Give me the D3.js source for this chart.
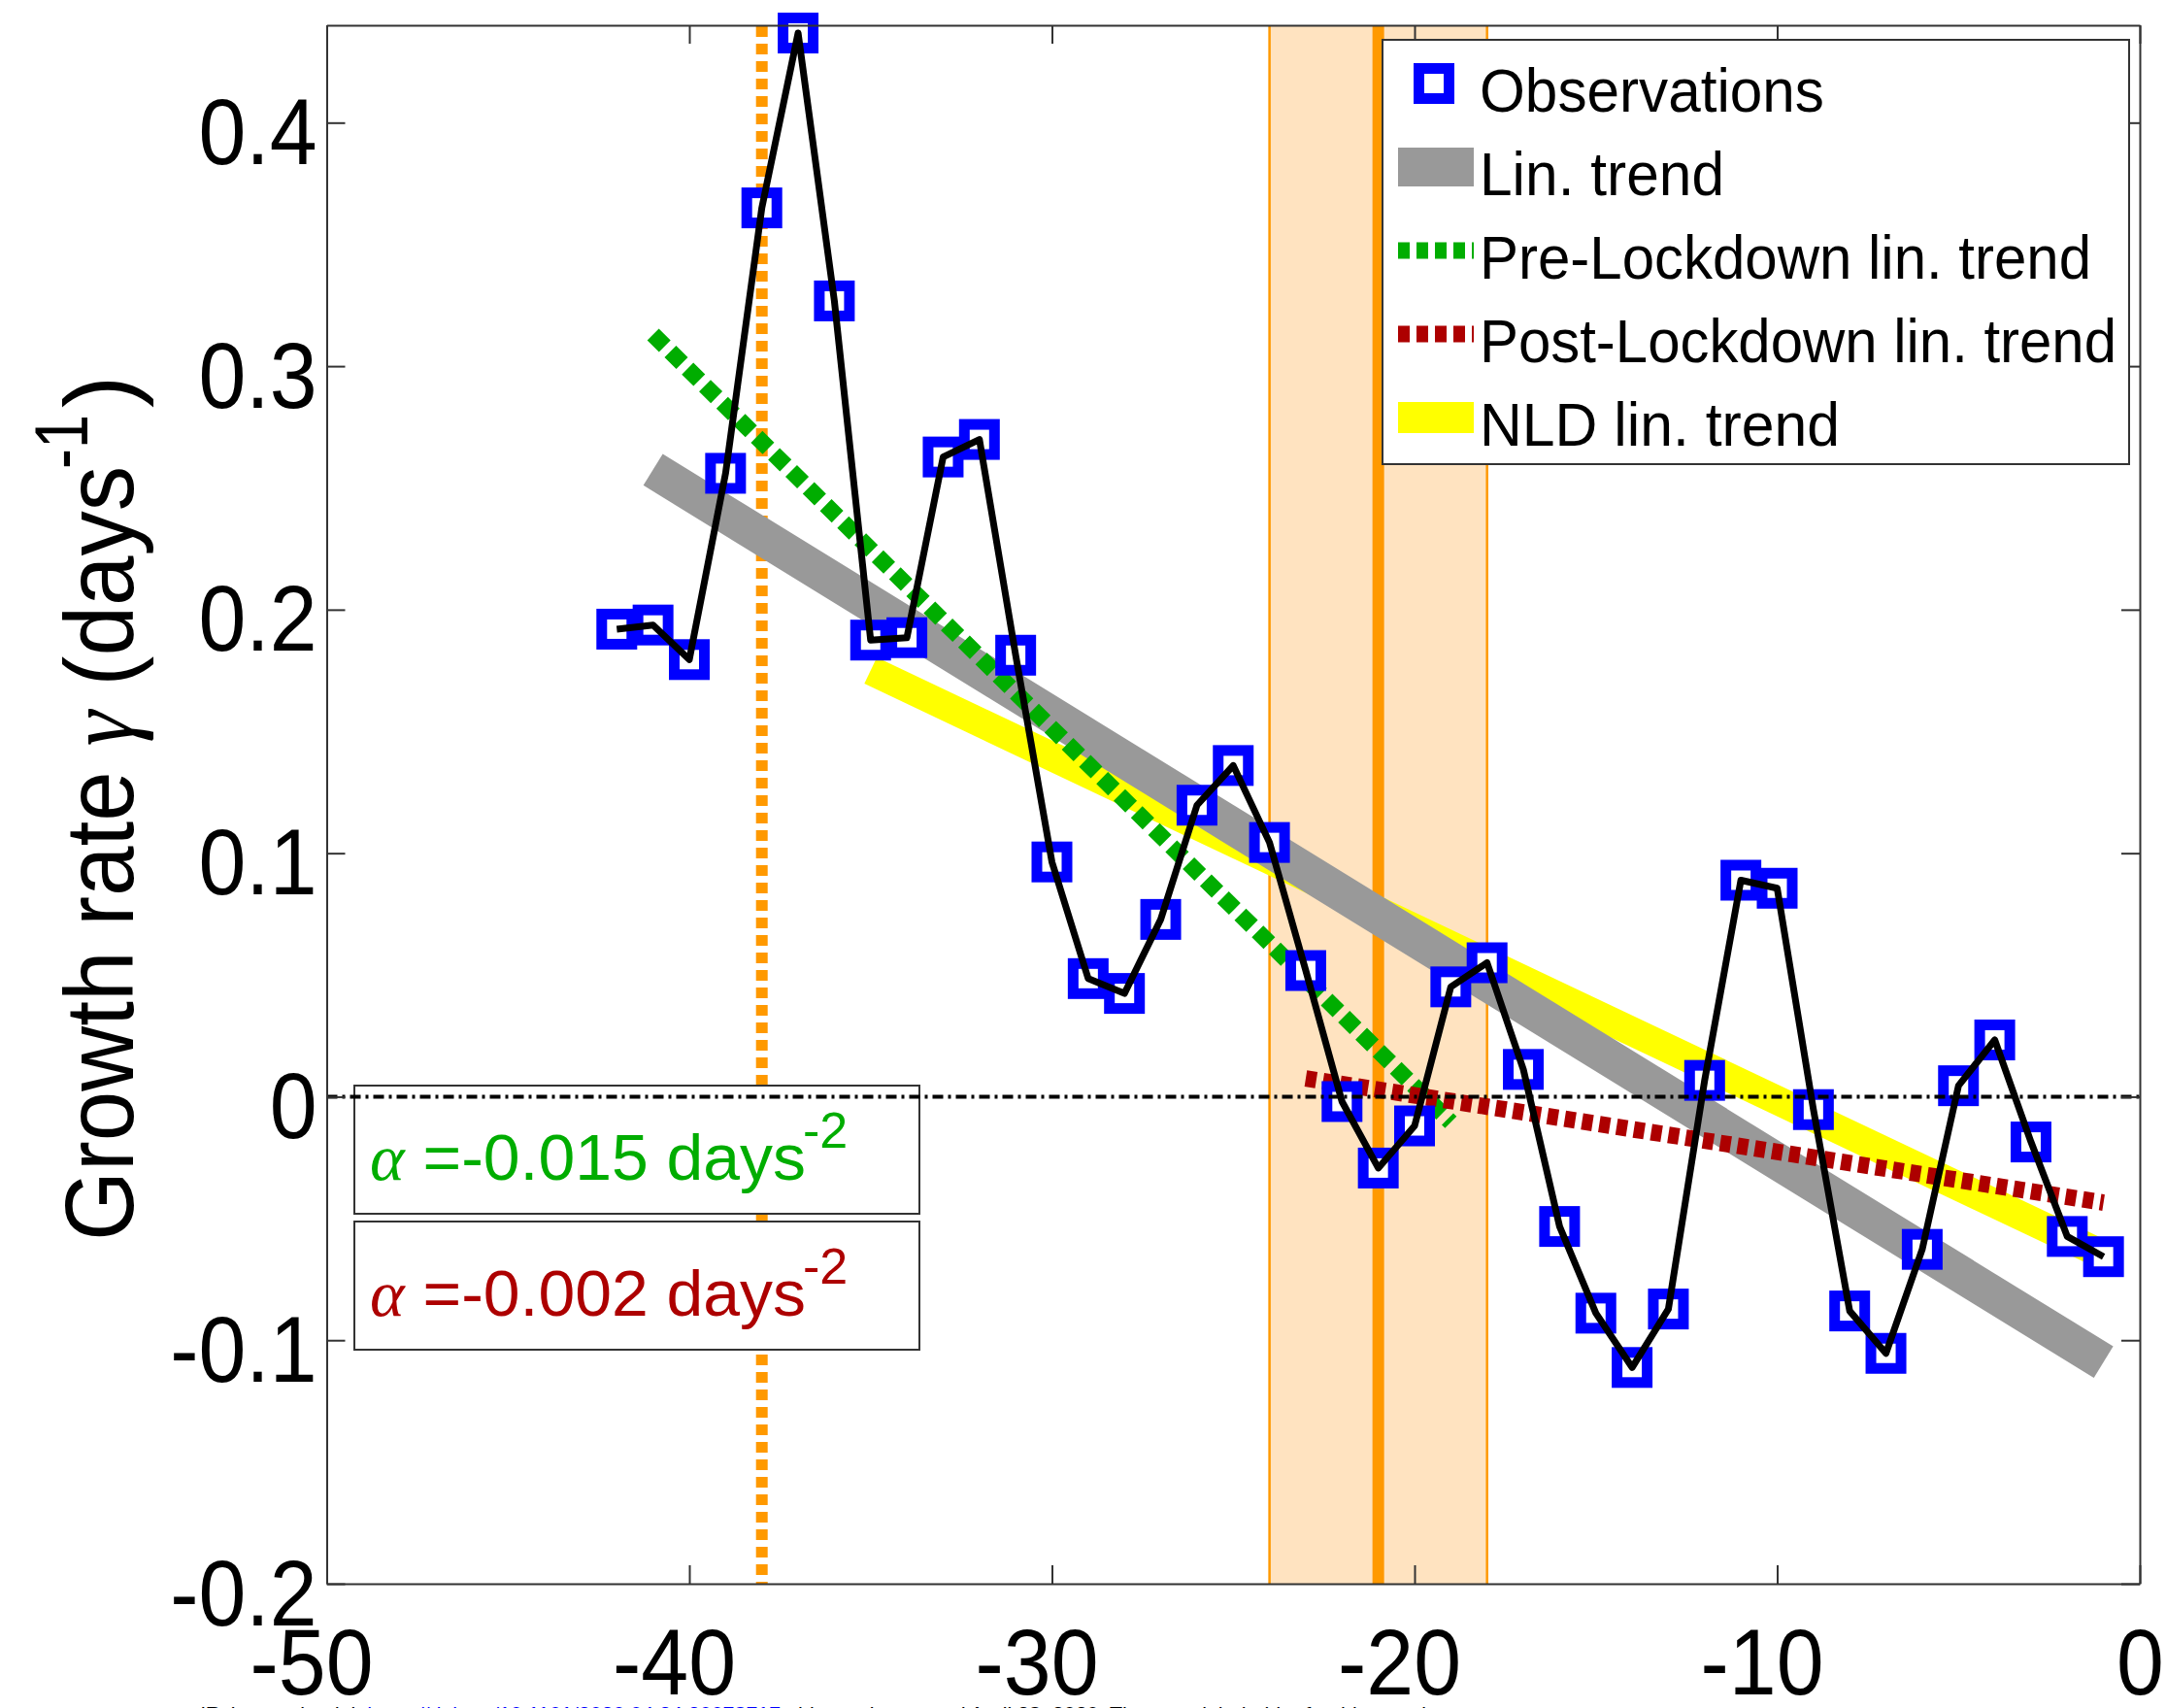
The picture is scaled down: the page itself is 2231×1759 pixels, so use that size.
<!DOCTYPE html>
<html><head><meta charset="utf-8">
<script src="https://cdn.jsdelivr.net/npm/d3@7"></script>
<style>body{margin:0;background:#fff}svg{display:block}</style>
</head><body>
<svg id="chart" width="2231" height="1759"></svg>
<script>
// ---------- data ----------
const days = [-42,-41,-40,-39,-38,-37,-36,-35,-34,-33,-32,-31,-30,-29,-28,-27,-26,-25,-24,-23,-22,-21,-20,-19,-18,-17,-16,-15,-14,-13,-12,-11,-10,-9,-8,-7,-6,-5,-4,-3,-2,-1];
const growthRate = [0.192,0.1937,0.1795,0.256,0.365,0.4368,0.3268,0.1875,0.1885,0.2627,0.2699,0.1813,0.0964,0.0485,0.0424,0.0728,0.1197,0.136,0.1044,0.0518,-0.002,-0.0293,-0.012,0.0451,0.055,0.0112,-0.0533,-0.0889,-0.1112,-0.0872,0.0067,0.0889,0.0856,-0.0053,-0.088,-0.1054,-0.0627,0.0045,0.0233,-0.0186,-0.0574,-0.0657];
const linTrendX = [-41,-1],  linTrendY = [0.2575,-0.109];
const nldTrendX = [-35,-1],  nldTrendY = [0.175,-0.065];
const preTrendX = [-41,-19], preTrendY = [0.313,-0.0105];
const postTrendX = [-23,-1], postTrendY = [0.0075,-0.0435];
const lockdownBand = [-24,-18];
const lockdownDay = [-21];
const firstCaseDay = [-38];
const xTicks = [-50,-40,-30,-20,-10,0];
const xTickLabels = ["-50","-40","-30","-20","-10","0"];
const yTicks = [-0.2,-0.1,0,0.1,0.2,0.3,0.4];
const yTickLabels = ["-0.2","-0.1","0","0.1","0.2","0.3","0.4"];
const legendLabels = ["Observations","Lin. trend","Pre-Lockdown lin. trend","Post-Lockdown lin. trend","NLD lin. trend"];
const alphaSymbol = "α";
const alphaTexts = [" =-0.015 days"," =-0.002 days"];
const alphaSup = "-2";
const yLabelParts = ["Growth rate ","γ"," (days"];
const yLabelSup = "-1";
const footer = ["medRxiv preprint doi: ","https://doi.org/10.1101/2020.04.24.20078717","; this version posted April 28, 2020. The copyright holder for this preprint"];

// ---------- layout ----------
const FONT = "'Liberation Sans', Arial, Helvetica, sans-serif";
const SERIF = "'Liberation Serif', 'DejaVu Serif', serif";
const L = 336.5, R = 2204, T = 26, B = 1631;
const svg = d3.select("#chart");
svg.append("rect").attr("width",2231).attr("height",1759).attr("fill","#fff");
const x = d3.scaleLinear().domain([-50,0]).range([L,R]);
const y = d3.scaleLinear().domain([-0.2,0.44]).range([B,T]);
const ORANGE = "#FF9900", GREEN = "#00AD00", RED = "#AD0000", GREY = "#999999", YELLOW = "#FFFF00", BLUE = "#0000FF";

// lockdown band
svg.append("rect").attr("x",x(lockdownBand[0])).attr("y",T)
  .attr("width",x(lockdownBand[1])-x(lockdownBand[0])).attr("height",B-T)
  .attr("fill","#FFE3C0");
svg.selectAll("line.bandedge").data(lockdownBand).join("line")
  .attr("x1",d=>x(d)).attr("x2",d=>x(d)).attr("y1",T).attr("y2",B)
  .attr("stroke",ORANGE).attr("stroke-width",2.5);
svg.selectAll("line.lock").data(lockdownDay).join("line")
  .attr("x1",d=>x(d)).attr("x2",d=>x(d)).attr("y1",T).attr("y2",B)
  .attr("stroke",ORANGE).attr("stroke-width",12);
svg.selectAll("line.first").data(firstCaseDay).join("line")
  .attr("x1",d=>x(d)).attr("x2",d=>x(d)).attr("y1",T+1).attr("y2",B)
  .attr("stroke",ORANGE).attr("stroke-width",12).attr("stroke-dasharray","11,7");

// trend lines
function seg(xs, ys){ return d3.line().x(d=>x(d[0])).y(d=>y(d[1]))(xs.map((v,i)=>[v,ys[i]])); }
svg.append("path").attr("d",seg(nldTrendX,nldTrendY)).attr("stroke",YELLOW).attr("stroke-width",30).attr("fill","none");
svg.append("path").attr("d",seg(linTrendX,linTrendY)).attr("stroke",GREY).attr("stroke-width",38).attr("fill","none");
svg.append("path").attr("d",seg(preTrendX,preTrendY)).attr("stroke",GREEN).attr("stroke-width",17).attr("stroke-dasharray","17,8").attr("fill","none");
svg.append("path").attr("d",seg(postTrendX,postTrendY)).attr("stroke",RED).attr("stroke-width",17).attr("stroke-dasharray","11,7").attr("fill","none");

// observations
const obs = days.map((d,i)=>[d,growthRate[i]]);
const MS = 31;
svg.selectAll("rect.obs").data(obs).join("rect").attr("class","obs")
  .attr("x",d=>x(d[0])-MS/2).attr("y",d=>y(d[1])-MS/2).attr("width",MS).attr("height",MS)
  .attr("fill","#fff").attr("stroke",BLUE).attr("stroke-width",11);
svg.append("path").attr("d",d3.line().x(d=>x(d[0])).y(d=>y(d[1])).curve(d3.curveLinear)(obs))
  .attr("stroke","#000").attr("stroke-width",7).attr("fill","none").attr("stroke-linejoin","round");

// annotation boxes
const boxTop = [1118,1258], boxColors = [GREEN, RED];
alphaTexts.forEach((t,i)=>{
  svg.append("rect").attr("x",365).attr("y",boxTop[i]).attr("width",582).attr("height",132)
    .attr("fill","#fff").attr("stroke","#333").attr("stroke-width",2);
  const tx = svg.append("text").attr("x",381).attr("y",boxTop[i]+97).attr("font-family",FONT).attr("font-size",67)
    .attr("fill",boxColors[i]).attr("textLength",449).attr("lengthAdjust","spacingAndGlyphs");
  tx.append("tspan").attr("font-family",SERIF).attr("font-style","italic").text(alphaSymbol);
  tx.append("tspan").text(t);
  svg.append("text").attr("x",827).attr("y",boxTop[i]+64).attr("font-family",FONT).attr("font-size",52)
    .attr("fill",boxColors[i]).text(alphaSup);
});

// zero line
svg.append("line").attr("x1",L).attr("x2",R).attr("y1",y(0)).attr("y2",y(0))
  .attr("stroke","#000").attr("stroke-width",4).attr("stroke-dasharray","11,5,3,5");

// axes
const axStyle = g => { g.selectAll("path.domain").attr("stroke","#333").attr("stroke-width",2);
  g.selectAll(".tick line").attr("stroke","#333").attr("stroke-width",2); };
const gB = svg.append("g").attr("transform",`translate(0,${B})`)
  .call(d3.axisBottom(x).tickValues(xTicks).tickSize(-19).tickSizeOuter(0).tickFormat((d,i)=>xTickLabels[i])).call(axStyle);
const gT = svg.append("g").attr("transform",`translate(0,${T})`)
  .call(d3.axisTop(x).tickValues(xTicks).tickSize(-19).tickSizeOuter(0).tickFormat("")).call(axStyle);
const gL = svg.append("g").attr("transform",`translate(${L},0)`)
  .call(d3.axisLeft(y).tickValues(yTicks).tickSize(-19).tickSizeOuter(0).tickFormat((d,i)=>yTickLabels[i])).call(axStyle);
const gR = svg.append("g").attr("transform",`translate(${R},0)`)
  .call(d3.axisRight(y).tickValues(yTicks).tickSize(-19).tickSizeOuter(0).tickFormat("")).call(axStyle);

function compress(sel, f){ sel.each(function(){ const w=this.getComputedTextLength(); d3.select(this).attr("textLength",w*f).attr("lengthAdjust","spacingAndGlyphs"); }); }
gB.selectAll(".tick text").attr("font-family",FONT).attr("font-size",96).attr("fill","#000")
  .attr("y",114).attr("dy",null).attr("dx",(d)=>d<0?-16:0).attr("text-anchor","middle");
compress(gB.selectAll(".tick text"),0.915);
gL.selectAll(".tick text").attr("font-family",FONT).attr("font-size",96).attr("fill","#000")
  .attr("x",-10).attr("dy",null).attr("y",42).attr("text-anchor","end");
compress(gL.selectAll(".tick text"),0.915);

// legend
const lg = svg.append("g");
lg.append("rect").attr("x",1424).attr("y",41).attr("width",769).attr("height",437)
  .attr("fill","#fff").attr("stroke","#333").attr("stroke-width",2);
const rowY = i => 86 + i*86;
lg.append("rect").attr("x",1477-MS/2).attr("y",rowY(0)-MS/2).attr("width",MS).attr("height",MS)
  .attr("fill","#fff").attr("stroke",BLUE).attr("stroke-width",11);
const samples = [null,{c:GREY,w:40},{c:GREEN,w:17,d:"12,7"},{c:RED,w:17,d:"12,7"},{c:YELLOW,w:32}];
samples.forEach((s,i)=>{ if(!s) return;
  lg.append("line").attr("x1",1440).attr("x2",1518).attr("y1",rowY(i)).attr("y2",rowY(i))
    .attr("stroke",s.c).attr("stroke-width",s.w).attr("stroke-dasharray",s.d||null); });
const legW = [355,252,630,656,371];
legendLabels.forEach((t,i)=>{
  lg.append("text").attr("x",1524).attr("y",rowY(i)+29).attr("font-family",FONT).attr("font-size",63)
    .attr("fill","#000").attr("textLength",legW[i]).attr("lengthAdjust","spacingAndGlyphs").text(t);
});

// y label
const yl = svg.append("g").attr("transform","translate(137,1275) rotate(-90)");
const ylt = yl.append("text").attr("x",-3).attr("y",0).attr("font-family",FONT).attr("font-size",100).attr("fill","#000")
  .attr("textLength",798).attr("lengthAdjust","spacingAndGlyphs");
yLabelParts.forEach((p,i)=>{ const ts = ylt.append("tspan").text(p); if(i===1) ts.attr("font-family",SERIF).attr("font-style","italic"); });
yl.append("text").attr("x",792).attr("y",-47).attr("font-family",FONT).attr("font-size",77).attr("fill","#000")
  .attr("textLength",56).attr("lengthAdjust","spacingAndGlyphs").text(yLabelSup);
yl.append("text").attr("x",855).attr("y",0).attr("font-family",FONT).attr("font-size",100).attr("fill","#000").text(")");

// footer (cut off at bottom edge)
const ft = svg.append("text").attr("x",170).attr("y",1771).attr("font-family",FONT).attr("font-size",19)
  .attr("textLength",1317).attr("lengthAdjust","spacingAndGlyphs");
const fc = ["#000","#0000ff","#000"];
footer.forEach((t,i)=>{ ft.append("tspan").attr("fill",fc[i]).text(t); });
</script>
</body></html>
